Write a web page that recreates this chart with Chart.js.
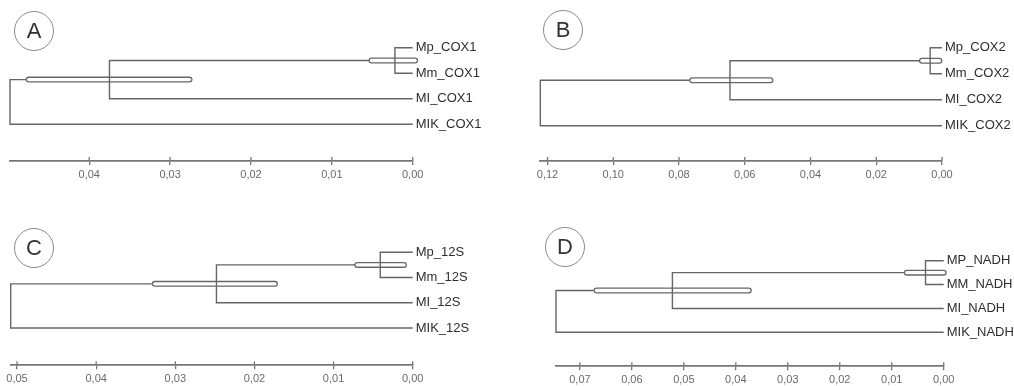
<!DOCTYPE html>
<html>
<head>
<meta charset="utf-8">
<script src="https://cdn.jsdelivr.net/npm/chart.js@4.4.1/dist/chart.umd.min.js"></script>
<style>
  body { margin: 0; background: #fff; width: 1014px; height: 386px; position: relative; overflow: hidden; font-family: "Liberation Sans", Arial, sans-serif; }
  .panel { position: absolute; width: 507px; height: 193px; }
  .tag { position: absolute; width: 38px; height: 38px; border: 1.4px solid #8a8a8a; border-radius: 50%; text-align: center; line-height: 38px; font-size: 22px; color: #333; }
</style>
</head>
<body>
<div class="panel" style="left:0;top:0"><canvas id="cA"></canvas></div>
<div class="panel" style="left:507px;top:0"><canvas id="cB"></canvas></div>
<div class="panel" style="left:0;top:193px"><canvas id="cC"></canvas></div>
<div class="panel" style="left:507px;top:193px"><canvas id="cD"></canvas></div>
<div class="tag" style="left:14px;top:11px">A</div>
<div class="tag" style="left:543px;top:10px">B</div>
<div class="tag" style="left:14px;top:228px">C</div>
<div class="tag" style="left:545px;top:227px">D</div>
<script>
// Hojas (de arriba a abajo)
const leavesA = ['Mp_COX1', 'Mm_COX1', 'MI_COX1', 'MIK_COX1'];
const leavesB = ['Mp_COX2', 'Mm_COX2', 'MI_COX2', 'MIK_COX2'];
const leavesC = ['Mp_12S', 'Mm_12S', 'MI_12S', 'MIK_12S'];
const leavesD = ['MP_NADH', 'MM_NADH', 'MI_NADH', 'MIK_NADH'];

// Alturas de los nodos: [Mp+Mm, (Mp,Mm)+MI, raiz]
const heightsA = [0.0022, 0.0375, 0.0498];
const heightsB = [0.0036, 0.0645, 0.1222];
const heightsC = [0.0041, 0.0248, 0.0508];
const heightsD = [0.0035, 0.0522, 0.0746];

// Intervalos de los dos nodos internos [min, max]
const ciA = [[-0.0003, 0.0051], [0.0276, 0.0475]];
const ciB = [[0.0008, 0.0061], [0.0522, 0.0760]];
const ciC = [[0.0011, 0.0070], [0.0174, 0.0326]];
const ciD = [[0.0000, 0.0071], [0.0375, 0.0668]];

// Marcas del eje
const ticksA = [0, 0.01, 0.02, 0.03, 0.04];
const ticksB = [0, 0.02, 0.04, 0.06, 0.08, 0.10, 0.12];
const ticksC = [0, 0.01, 0.02, 0.03, 0.04, 0.05];
const ticksD = [0, 0.01, 0.02, 0.03, 0.04, 0.05, 0.06, 0.07];

// Posiciones de cada panel (px dentro del panel)
const layoutA = { left: 10, right: 412.7, firstLeaf: 47.7, lastLeaf: 124.3, axisY: 161 };
const layoutB = { left: 33.3, right: 435, firstLeaf: 47.7, lastLeaf: 125.7, axisY: 161 };
const layoutC = { left: 10.7, right: 412.7, firstLeaf: 59.3, lastLeaf: 135, axisY: 172.3 };
const layoutD = { left: 49, right: 436.7, firstLeaf: 67.7, lastLeaf: 139.3, axisY: 173.3 };

const LINE = '#666';
Chart.defaults.font.family = '"Liberation Sans", Arial, sans-serif';

const tickUp = {
  id: 'tickUp',
  afterDraw(chart) {
    const sx = chart.scales.x, ctx = chart.ctx;
    ctx.save();
    ctx.strokeStyle = '#777';
    ctx.lineWidth = 1.3;
    sx.ticks.forEach(t => {
      const px = sx.getPixelForValue(t.value);
      ctx.beginPath();
      ctx.moveTo(px, sx.top - 4);
      ctx.lineTo(px, sx.top);
      ctx.stroke();
    });
    ctx.restore();
  }
};

function elbow(h, a, b) {
  return [{ x: a.x, y: a.y }, { x: h, y: a.y }, { x: h, y: b.y }, { x: b.x, y: b.y }];
}

function lineSet(data, order, color, width, cap) {
  return { data, order, showLine: true, pointRadius: 0, borderColor: color, borderWidth: width,
           borderCapStyle: cap || 'butt', borderJoinStyle: 'miter', clip: false, tension: 0 };
}

function drawTree(id, leaves, heights, ci, ticks, L) {
  const n1 = { x: heights[0], y: 1.5 };
  const n2 = { x: heights[1], y: (1.5 + 3) / 2 };
  const e1 = elbow(heights[0], { x: 0, y: 1 }, { x: 0, y: 2 });
  const e2 = elbow(heights[1], n1, { x: 0, y: 3 });
  const e3 = elbow(heights[2], n2, { x: 0, y: 4 });
  const bar = (c, n) => [{ x: c[0], y: n.y }, { x: c[1], y: n.y }];

  const datasets = [
    lineSet(e3, 7, LINE, 1.4),
    lineSet(bar(ci[1], n2), 6, LINE, 6, 'round'),
    lineSet(bar(ci[1], n2), 5, '#fff', 3.4, 'round'),
    lineSet(e2, 4, LINE, 1.4),
    lineSet(bar(ci[0], n1), 3, LINE, 6, 'round'),
    lineSet(bar(ci[0], n1), 2, '#fff', 3.4, 'round'),
    lineSet(e1, 1, LINE, 1.4)
  ];

  const step = (L.lastLeaf - L.firstLeaf) / 3;
  const top = L.firstLeaf - step;
  const yMax = (L.axisY - top) / step;

  new Chart(document.getElementById(id), {
    type: 'scatter',
    data: { datasets },
    options: {
      responsive: true,
      maintainAspectRatio: false,
      animation: false,
      devicePixelRatio: 1,
      layout: { padding: { left: L.left, top: top, right: 0, bottom: 0 } },
      plugins: { legend: { display: false }, tooltip: { enabled: false } },
      scales: {
        x: {
          type: 'linear',
          reverse: true,
          min: 0,
          max: heights[2],
          afterBuildTicks: s => { s.ticks = ticks.map(v => ({ value: v })); },
          afterFit: s => { s.height = 193 - L.axisY; },
          grid: { drawOnChartArea: false, drawTicks: true, tickLength: 4, color: '#777', lineWidth: 1.3 },
          border: { display: true, color: '#777', width: 1.8 },
          ticks: { padding: 3, color: '#6a6a6a', font: { size: 11 }, maxRotation: 0, autoSkip: false,
                   callback: v => v.toFixed(2).replace('.', ',') }
        },
        y: {
          type: 'linear',
          position: 'right',
          reverse: true,
          min: 0,
          max: yMax,
          afterBuildTicks: s => { s.ticks = leaves.map((n, i) => ({ value: i + 1 })); },
          afterFit: s => { s.width = 507 - L.right; },
          grid: { display: false, drawTicks: false },
          border: { display: false },
          ticks: { padding: 3, color: '#2e2e2e', font: { size: 13 }, autoSkip: false,
                   callback: (v, i) => leaves[i] }
        }
      }
    },
    plugins: [tickUp]
  });
}

drawTree('cA', leavesA, heightsA, ciA, ticksA, layoutA);
drawTree('cB', leavesB, heightsB, ciB, ticksB, layoutB);
drawTree('cC', leavesC, heightsC, ciC, ticksC, layoutC);
drawTree('cD', leavesD, heightsD, ciD, ticksD, layoutD);
</script>
</body>
</html>
